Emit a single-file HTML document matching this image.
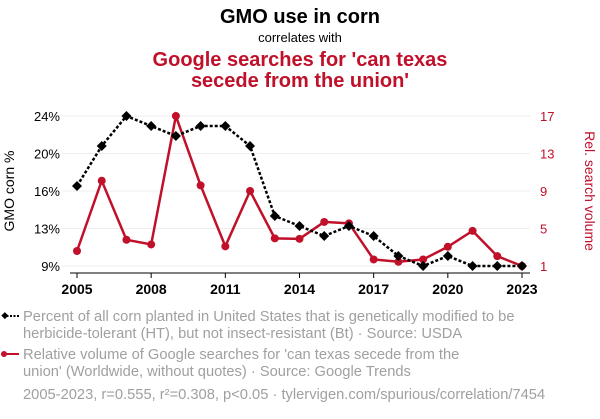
<!DOCTYPE html>
<html><head><meta charset="utf-8"><style>
body{margin:0;background:#fff;width:600px;height:414px;overflow:hidden;font-family:"Liberation Sans",sans-serif}
</style></head><body>
<svg width="600" height="414" xmlns="http://www.w3.org/2000/svg" font-family="Liberation Sans, sans-serif">
<text x="300" y="23" text-anchor="middle" font-size="20" font-weight="bold" fill="#000">GMO use in corn</text>
<text x="300" y="42" text-anchor="middle" font-size="13" fill="#000">correlates with</text>
<text x="300" y="66" text-anchor="middle" font-size="20" font-weight="bold" fill="#c0102a">Google searches for 'can texas</text>
<text x="300" y="87" text-anchor="middle" font-size="20" font-weight="bold" fill="#c0102a">secede from the union'</text>
<g id="grid"></g><g id="axes"></g><g id="marks"></g>
<text transform="translate(14,191) rotate(-90)" text-anchor="middle" font-size="14" fill="#000">GMO corn %</text>
<text transform="translate(585,191) rotate(90)" text-anchor="middle" font-size="14" fill="#c0102a">Rel. search volume</text>
<g>
<line x1="3" y1="316" x2="20" y2="316" stroke="#000" stroke-width="2" stroke-dasharray="2,1.5"/>
<rect x="2" y="313" width="5" height="5" transform="rotate(45 4.5 316)" fill="#000"/>
<text x="23" y="321" font-size="14.7" fill="#a0a0a0">Percent of all corn planted in United States that is genetically modified to be</text>
<text x="23" y="338" font-size="14.7" fill="#a0a0a0">herbicide-tolerant (HT), but not insect-resistant (Bt) · Source: USDA</text>
</g>
<g>
<line x1="3" y1="354" x2="19" y2="354" stroke="#c0102a" stroke-width="2"/>
<circle cx="4" cy="354" r="3" fill="#c0102a"/>
<text x="23" y="359" font-size="14.7" fill="#a0a0a0">Relative volume of Google searches for 'can texas secede from the</text>
<text x="23" y="376" font-size="14.7" fill="#a0a0a0">union' (Worldwide, without quotes) · Source: Google Trends</text>
</g>
<text x="23" y="399" font-size="14.7" fill="#a0a0a0">2005-2023, r=0.555, r²=0.308, p&lt;0.05 · tylervigen.com/spurious/correlation/7454</text>
</svg>
<script>
const years=[2005,2006,2007,2008,2009,2010,2011,2012,2013,2014,2015,2016,2017,2018,2019,2020,2021,2022,2023];
const gmo=[17,21,24,23,22,23,23,21,14,13,12,13,12,10,9,10,9,9,9];
const searches=[2.6,10.1,3.8,3.3,17,9.6,3.1,9,3.95,3.9,5.7,5.55,1.7,1.45,1.7,3.05,4.75,2.05,1];
const xTicks=[2005,2008,2011,2014,2017,2020,2023];
const leftTicks=["24%","20%","16%","13%","9%"];
const rightTicks=["17","13","9","5","1"];
const NS="http://www.w3.org/2000/svg";
const x=y=>77+(y-2005)*(522-77)/18;
const yL=v=>266-(v-9)*150/15;
const yR=v=>266-(v-1)*150/16;
function mk(t,a,p){const e=document.createElementNS(NS,t);for(const k in a)e.setAttribute(k,a[k]);p.appendChild(e);return e;}
const grid=document.getElementById('grid'),axes=document.getElementById('axes'),marks=document.getElementById('marks');
leftTicks.forEach((t,i)=>{const yy=116+i*37.5;
 const g=mk('line',{x1:62,x2:530,y1:yy,y2:yy,stroke:'#eee','stroke-width':1},grid);
 
 
 const l=mk('text',{x:60,y:yy+5,'text-anchor':'end','font-size':13,fill:'#000'},axes);l.textContent=t;
 
 
 const r=mk('text',{x:540,y:yy+5,'font-size':13,fill:'#c0102a'},axes);r.textContent=rightTicks[i];
 
 
});
mk('line',{x1:70,x2:530,y1:273,y2:273,stroke:'#000','stroke-width':1},axes);
xTicks.forEach(t=>{mk('line',{x1:x(t),x2:x(t),y1:273,y2:278,stroke:'#000'},axes);
 const l=mk('text',{x:x(t),y:294,'text-anchor':'middle','font-size':14,'font-weight':'bold',fill:'#000'},axes);l.textContent=t;
 
 
});
const rl=mk('polyline',{points:years.map((y,i)=>x(y)+','+yR(searches[i])).join(' '),fill:'none',stroke:'#c0102a','stroke-width':2.5},marks);


years.forEach((y,i)=>{const c=mk('circle',{cx:x(y),cy:yR(searches[i]),r:4,fill:'#c0102a'},marks);
 
 });
const bl=mk('polyline',{points:years.map((y,i)=>x(y)+','+yL(gmo[i])).join(' '),fill:'none',stroke:'#000','stroke-width':2.5,'stroke-dasharray':'3,2'},marks);


years.forEach((y,i)=>{const cx=x(y),cy=yL(gmo[i]);
 const d=mk('polygon',{points:`${cx},${cy-5} ${cx+5},${cy} ${cx},${cy+5} ${cx-5},${cy}`,fill:'#000'},marks);
 
 });
</script>
</body></html>
